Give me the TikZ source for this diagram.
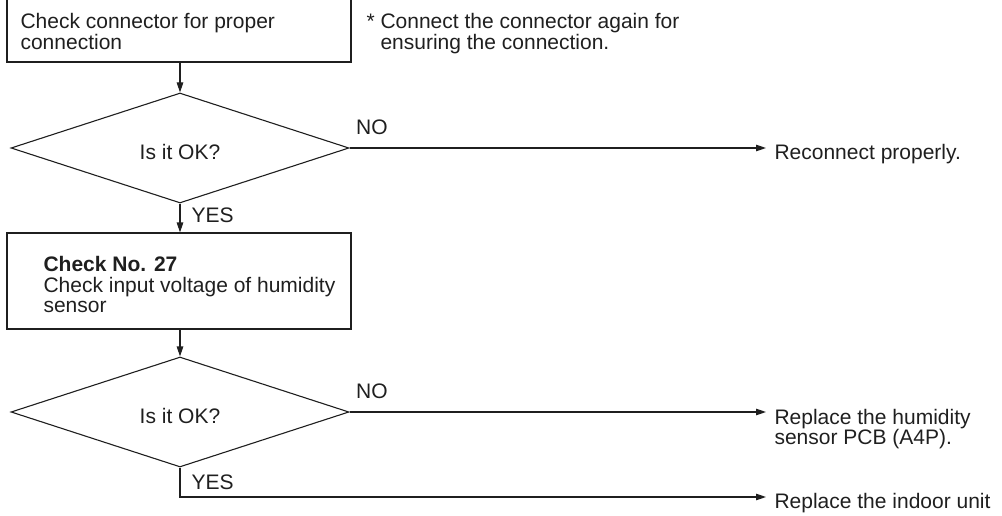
\documentclass[tikz,border=0pt]{standalone}
\usepackage{fontspec}
\setmainfont{Liberation Sans}
\usetikzlibrary{shapes.geometric,arrows.meta}
\definecolor{ink}{gray}{0.12}
\begin{document}
\begin{tikzpicture}[x=1pt,y=-1pt,line width=1.1pt,color=ink,
  every node/.style={font=\fontsize{21}{20.5}\selectfont,inner sep=0pt},
  chkbox/.style={draw,minimum width=344pt,minimum height=#1},
  okdec/.style={draw,diamond,minimum width=338pt,minimum height=110pt,text height=23pt,text depth=0pt},
  flow/.style={-{Triangle[length=10pt,width=6.5pt]}},
  nolbl/.style={anchor=south west,xshift=6pt,yshift=13pt},
  yeslbl/.style={anchor=west,xshift=11pt}]
  \useasboundingbox (0,0) rectangle (1002,516);
  \node[chkbox=64pt] (chk1) at (179,30) {};
  \node[anchor=north west,align=left] (chk1txt) at (20,13) {Check connector for proper\\connection};
  \node[anchor=north west,align=left] (note) at (366,13) {* Connect the connector again for\\\hphantom{* }ensuring the connection.};
  \node[okdec] (ok1) at (180,148) {Is it OK?};
  \node[chkbox=96pt] (chk2) at (179,281) {};
  \node[anchor=north west,align=left] (chk2txt) at (43,256) {\textbf{Check No. 27}\\Check input voltage of humidity\\sensor};
  \node[okdec] (ok2) at (180,412) {Is it OK?};
  \node[anchor=north west,inner xsep=8pt,align=left] (recon) at (766,143.5) {Reconnect properly.};
  \node[anchor=north west,inner xsep=8pt,align=left] (repPCB) at (766,408.5) {Replace the humidity\\sensor PCB (A4P).};
  \node[anchor=north west,inner xsep=8pt] (repUnit) at (766,493) {Replace the indoor unit};
  \coordinate (turn) at (180,497);
  \draw[flow] (chk1.south -| ok1.north) -- (ok1.north);
  \draw[flow] (ok1.east) -- node[nolbl,pos=0] {NO} (ok1.east -| recon.west);
  \draw[flow] (ok1.south) -- node[yeslbl,pos=0.4] {YES} (chk2.north -| ok1.south);
  \draw[flow] (chk2.south -| ok2.north) -- (ok2.north);
  \draw[flow] (ok2.east) -- node[nolbl,pos=0] {NO} (ok2.east -| repPCB.west);
  \draw[flow] (ok2.south) -- node[yeslbl,pos=0.5] {YES} (turn) -- (turn -| repUnit.west);
\end{tikzpicture}
\end{document}
